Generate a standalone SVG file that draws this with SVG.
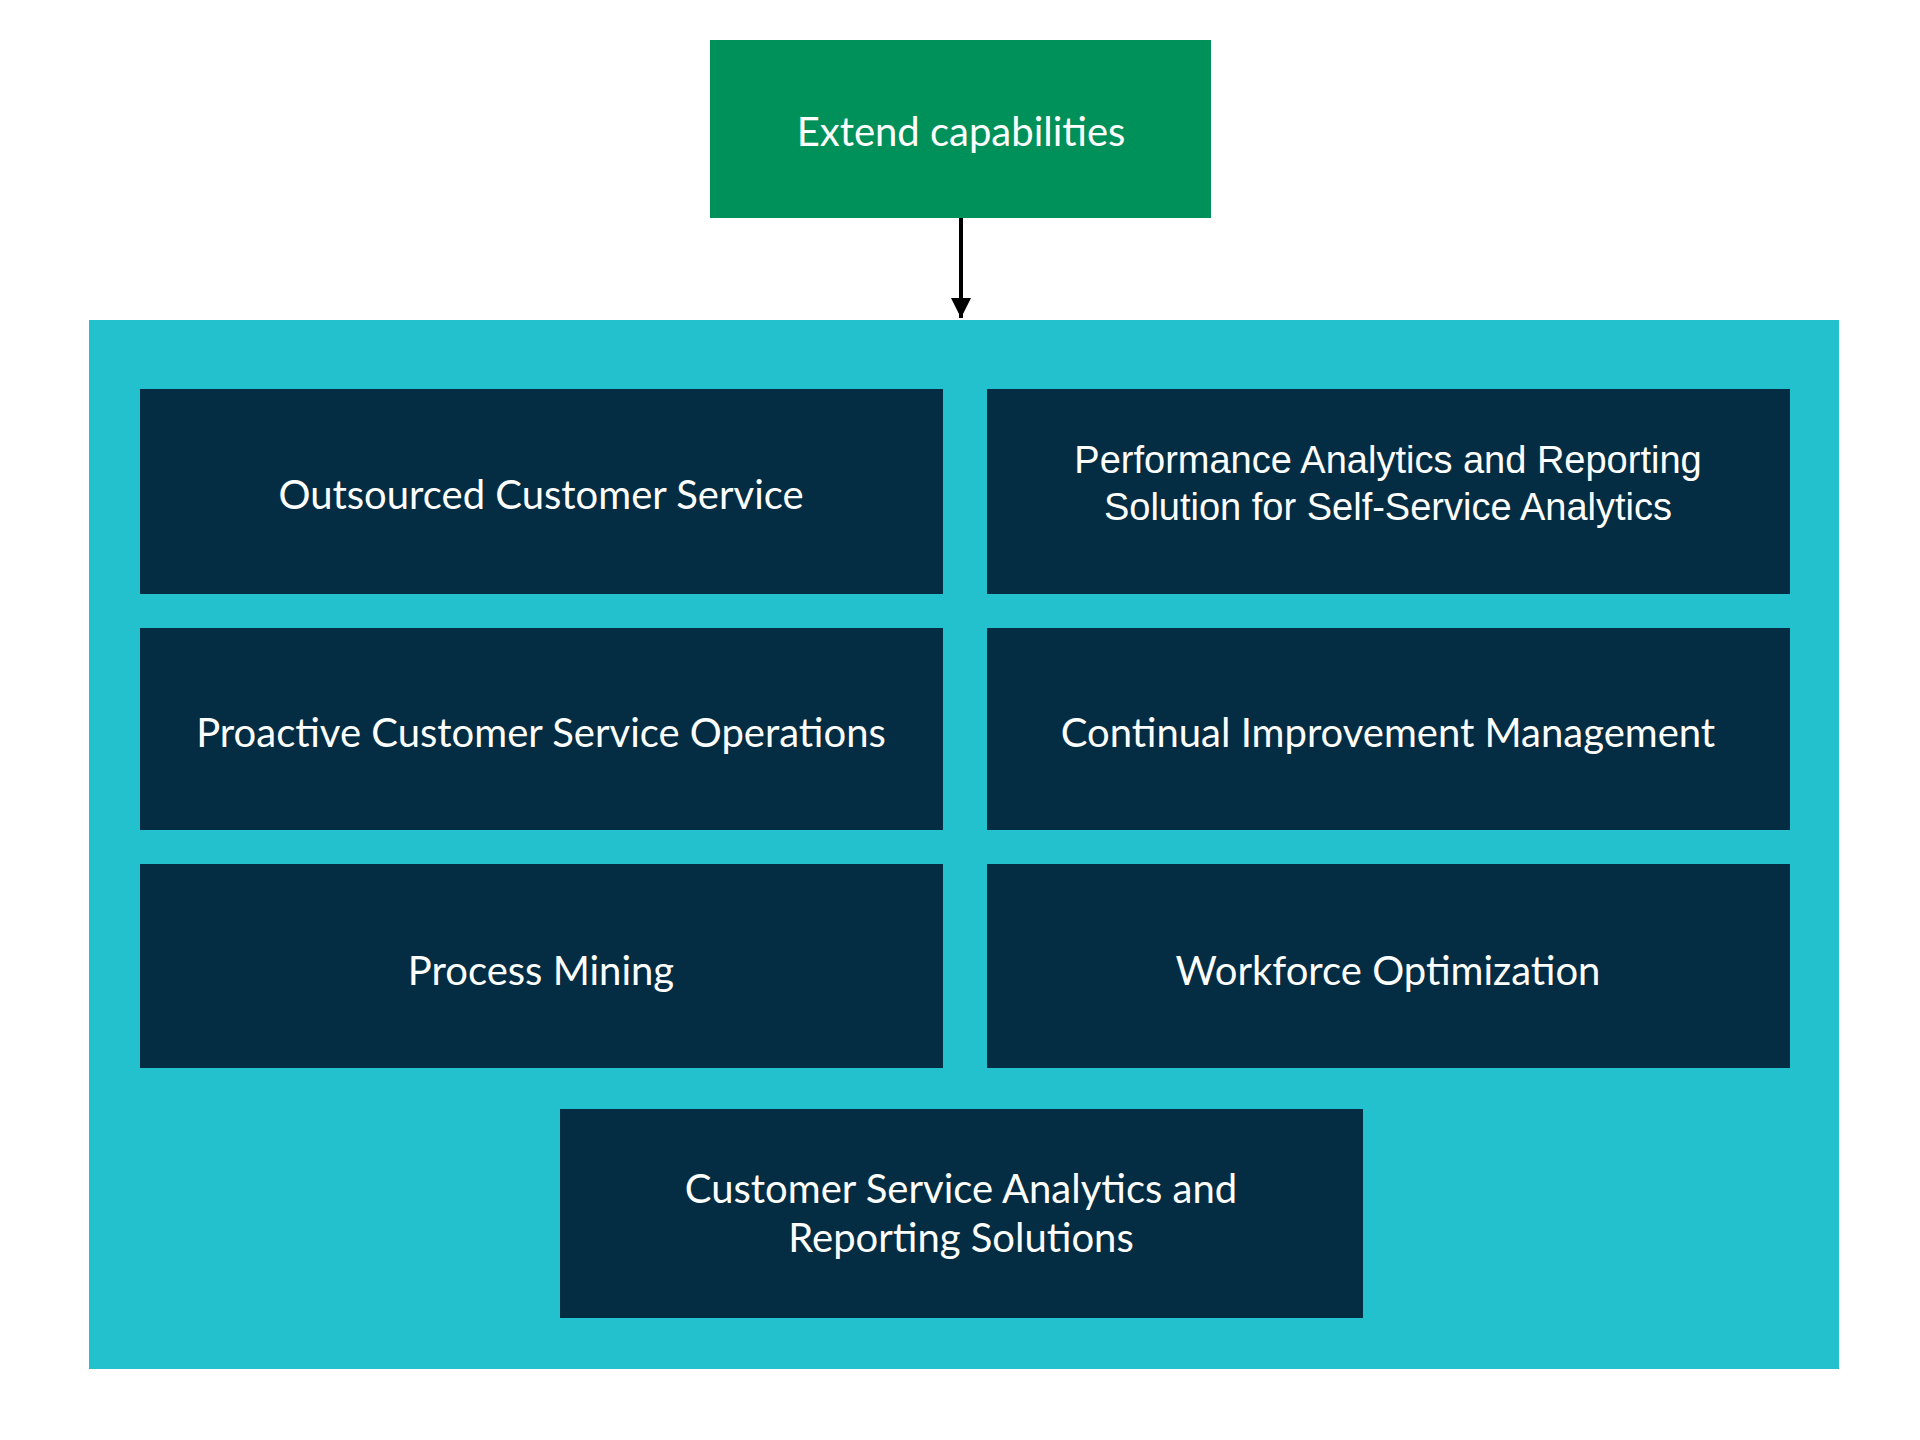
<svg xmlns="http://www.w3.org/2000/svg" width="1920" height="1440" viewBox="0 0 1920 1440">
<style>
.n{fill:#042d43}
.t{fill:#fff;font-family:Lato,"Noto Sans",sans-serif;font-size:40px;text-anchor:middle;dominant-baseline:central}
.a{fill:#fff;font-family:"Liberation Sans",Arial,sans-serif;font-size:38px;text-anchor:middle;dominant-baseline:central}
</style>
<defs><marker id="ar" markerWidth="10" markerHeight="12" refX="5" refY="12" orient="auto" markerUnits="userSpaceOnUse"><path d="M-1,0 L11,0 L5,14 Z" transform="rotate(-90 5 6)" fill="#000"/></marker>
<marker id="ah" viewBox="0 0 10 10" refX="10" refY="5" markerWidth="6" markerHeight="5" orient="auto"><path d="M0,0 L10,5 L0,10 Z" fill="#000"/></marker></defs>
<rect width="1920" height="1440" fill="#fff"/>
<g id="top"><rect x="710" y="40" width="501" height="178" fill="#00915a"/><text class="t" x="961" y="131">Extend capabilities</text></g>
<g id="group"><rect x="89" y="320" width="1750" height="1049" fill="#23c1cd"/></g>
<g id="n1"><rect class="n" x="140" y="389" width="803" height="205"/><text class="t" x="541" y="494">Outsourced Customer Service</text></g>
<g id="n2"><rect class="n" x="987" y="389" width="803" height="205"/><text class="a" x="1388" y="460">Performance Analytics and Reporting</text><text class="a" x="1388" y="507">Solution for Self-Service Analytics</text></g>
<g id="n3"><rect class="n" x="140" y="628" width="803" height="202"/><text class="t" x="541" y="732">Proactive Customer Service Operations</text></g>
<g id="n4"><rect class="n" x="987" y="628" width="803" height="202"/><text class="t" x="1388" y="732">Continual Improvement Management</text></g>
<g id="n5"><rect class="n" x="140" y="864" width="803" height="204"/><text class="t" x="541" y="970">Process Mining</text></g>
<g id="n6"><rect class="n" x="987" y="864" width="803" height="204"/><text class="t" x="1388" y="970">Workforce Optimization</text></g>
<g id="n7"><rect class="n" x="560" y="1109" width="803" height="209"/><text class="t" x="961" y="1188">Customer Service Analytics and</text><text class="t" x="961" y="1237">Reporting Solutions</text></g>
<g id="connectors"><path d="M961,218 V318" stroke="#000" stroke-width="4" fill="none" marker-end="url(#ah)"/></g>
</svg>
